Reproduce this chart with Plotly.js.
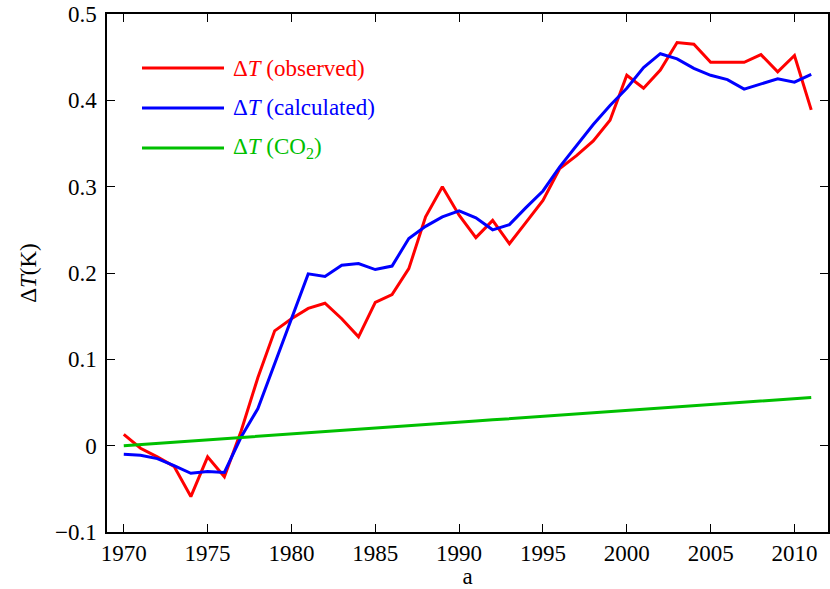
<!DOCTYPE html>
<html>
<head>
<meta charset="utf-8">
<script src="https://cdn.plot.ly/plotly-3.0.1.min.js"></script>
<style>html,body{margin:0;padding:0;background:#fff;}</style>
</head>
<body>
<div id="chart" style="width:830px;height:589px"></div>
<script>
const years = [1970,1971,1972,1973,1974,1975,1976,1977,1978,1979,1980,1981,1982,1983,1984,1985,1986,1987,1988,1989,1990,1991,1992,1993,1994,1995,1996,1997,1998,1999,2000,2001,2002,2003,2004,2005,2006,2007,2008,2009,2010,2011];
const observed = [0.013,-0.003,-0.013,-0.024,-0.059,-0.013,-0.036,0.017,0.079,0.133,0.147,0.159,0.165,0.147,0.126,0.166,0.175,0.205,0.265,0.300,0.267,0.241,0.261,0.234,0.259,0.284,0.321,0.336,0.353,0.377,0.429,0.414,0.435,0.467,0.465,0.444,0.444,0.444,0.453,0.433,0.452,0.389];
const calculated = [-0.010,-0.011,-0.015,-0.023,-0.032,-0.030,-0.031,0.010,0.043,0.095,0.147,0.199,0.196,0.209,0.211,0.204,0.208,0.240,0.254,0.265,0.272,0.264,0.250,0.256,0.276,0.295,0.323,0.348,0.372,0.394,0.414,0.438,0.454,0.448,0.437,0.429,0.424,0.413,0.419,0.425,0.421,0.430];
const co2 = [0.0000,0.0014,0.0027,0.0041,0.0054,0.0068,0.0082,0.0095,0.0109,0.0122,0.0136,0.0150,0.0163,0.0177,0.0190,0.0204,0.0218,0.0231,0.0245,0.0258,0.0272,0.0286,0.0299,0.0313,0.0326,0.0340,0.0354,0.0367,0.0381,0.0394,0.0408,0.0422,0.0435,0.0449,0.0462,0.0476,0.0490,0.0503,0.0517,0.0530,0.0544,0.0558];
const seriesNames = ['Δ<i>T</i> (observed)','Δ<i>T</i> (calculated)','Δ<i>T</i> (CO<sub>2</sub>)'];
const seriesColors = ['#ff0000','#0000ff','#00c000'];
const xTicks = [1970,1975,1980,1985,1990,1995,2000,2005,2010];
const yTicks = [-0.1,0,0.1,0.2,0.3,0.4,0.5];
const yTickText = ['\u22120.1','0','0.1','0.2','0.3','0.4','0.5'];

const FAM = 'Times New Roman';
const seriesData = [observed, calculated, co2];
const traces = seriesData.map((ys, i) => ({
  x: years, y: ys, type: 'scatter', mode: 'lines',
  name: seriesNames[i], line: {color: seriesColors[i], width: 3},
  showlegend: false, hoverinfo: 'skip'
}));

const shapes = [], annotations = [];
const legX0 = 142, legX1 = 224, legTextX = 231, legY = [68, 108, 148];
const W = 830, H = 589, mL = 107, mR = 2, mT = 14, mB = 57;
const pw = W - mL - mR, ph = H - mT - mB;
seriesNames.forEach((n, i) => {
  const yp = 1 - (legY[i] - mT) / ph;
  shapes.push({type: 'line', xref: 'paper', yref: 'paper',
    x0: (legX0 - mL) / pw, x1: (legX1 - mL) / pw, y0: yp, y1: yp,
    line: {color: seriesColors[i], width: 3}});
  annotations.push({xref: 'paper', yref: 'paper', x: (legTextX - mL) / pw, y: yp,
    xanchor: 'left', yanchor: 'middle', showarrow: false, text: n,
    font: {family: FAM, size: 23, color: seriesColors[i]}});
});

const layout = {
  width: W, height: H,
  margin: {l: mL, r: mR, t: mT, b: mB, pad: 0},
  paper_bgcolor: '#fff', plot_bgcolor: '#fff',
  font: {family: FAM, size: 23, color: '#000'},
  xaxis: {
    showline: true, linecolor: '#000', linewidth: 1.5, mirror: 'ticks',
    ticks: 'inside', ticklen: 8, tickwidth: 1.2, tickcolor: '#000',
    showgrid: false, zeroline: false,
    tickfont: {family: FAM, size: 23, color: '#000'},
    range: [1969, 2012], tickvals: xTicks, ticktext: xTicks.map(String),
    title: {text: 'a', standoff: 4, font: {family: FAM, size: 23, color: '#000'}}
  },
  yaxis: {
    showline: true, linecolor: '#000', linewidth: 1.5, mirror: 'ticks',
    ticks: 'inside', ticklen: 8, tickwidth: 1.2, tickcolor: '#000',
    showgrid: false, zeroline: false,
    tickfont: {family: FAM, size: 23, color: '#000'},
    range: [-0.1, 0.5], tickvals: yTicks, ticktext: yTickText,
    ticklabelstandoff: 4,
    title: {text: 'Δ<i>T</i>(K)', standoff: 12, font: {family: FAM, size: 23, color: '#000'}}
  },
  shapes: shapes, annotations: annotations, showlegend: false
};

Plotly.newPlot('chart', traces, layout, {displayModeBar: false});
</script>
</body>
</html>
